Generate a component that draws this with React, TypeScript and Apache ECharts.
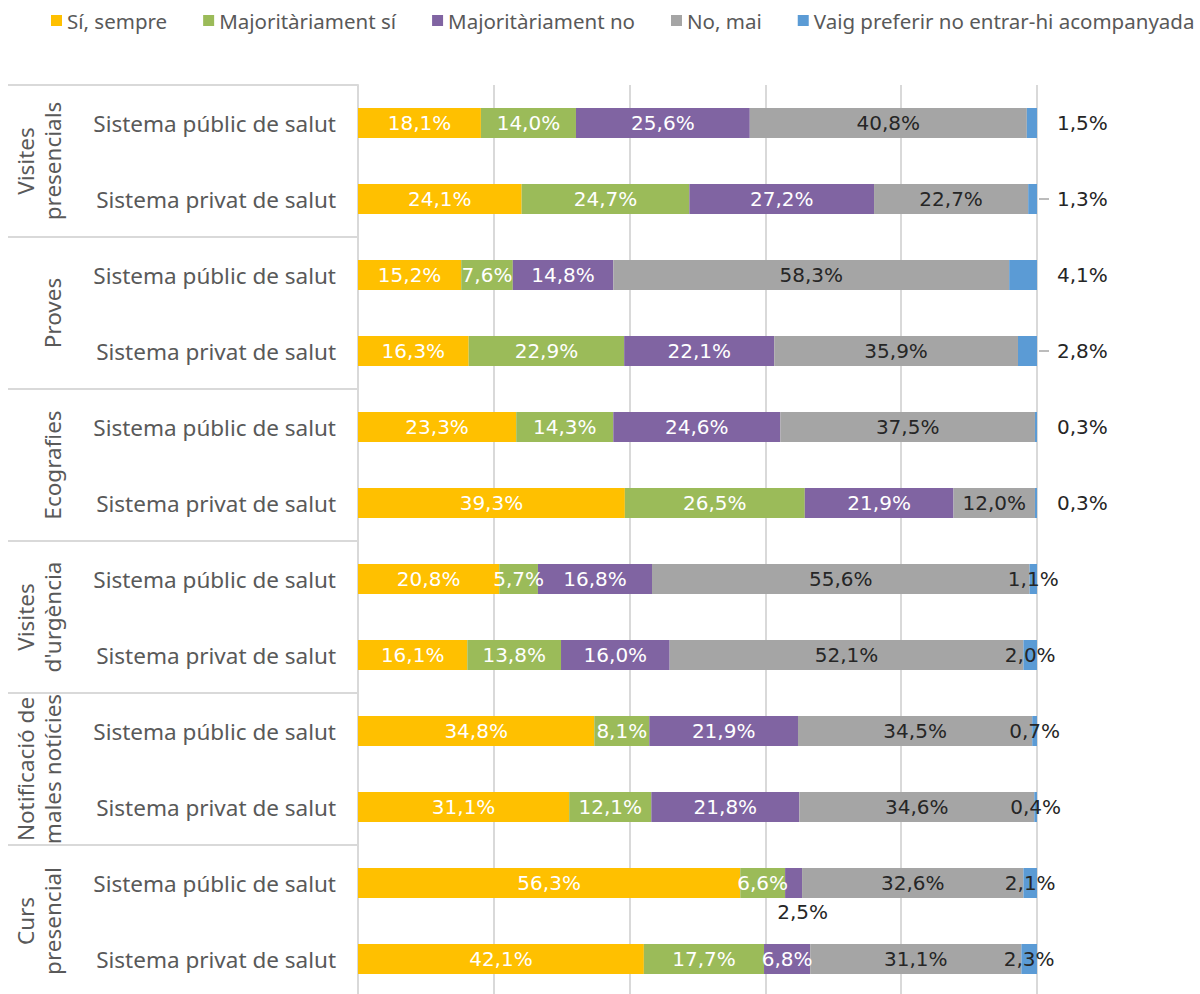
import React, { useEffect, useRef } from "react";
import * as echarts from "echarts";

const seriesNames = [
  "Sí, sempre",
  "Majoritàriament sí",
  "Majoritàriament no",
  "No, mai",
  "Vaig preferir no entrar-hi acompanyada",
];
const colors = ["#FFC000", "#9BBB59", "#8064A2", "#A5A5A5", "#5B9BD5"];

const groups = [
  "Visites\npresencials",
  "Proves",
  "Ecografies",
  "Visites\nd'urgència",
  "Notificació de\nmales notícies",
  "Curs\npresencial",
];
const subLabels = ["Sistema públic de salut", "Sistema privat de salut"];
const rowKeys = groups.flatMap((g, gi) => subLabels.map((s, si) => `r${gi}_${si}`));
const rowLabels = groups.flatMap(() => subLabels);

const siSempre = [18.1, 24.1, 15.2, 16.3, 23.3, 39.3, 20.8, 16.1, 34.8, 31.1, 56.3, 42.1];
const majSi = [14.0, 24.7, 7.6, 22.9, 14.3, 26.5, 5.7, 13.8, 8.1, 12.1, 6.6, 17.7];
const majNo = [25.6, 27.2, 14.8, 22.1, 24.6, 21.9, 16.8, 16.0, 21.9, 21.8, 2.5, 6.8];
const noMai = [40.8, 22.7, 58.3, 35.9, 37.5, 12.0, 55.6, 52.1, 34.5, 34.6, 32.6, 31.1];
const acomp = [1.5, 1.3, 4.1, 2.8, 0.3, 0.3, 1.1, 2.0, 0.7, 0.4, 2.1, 2.3];

const xTicks = [0, 20, 40, 60, 80, 100];

const fmt = (v: number) => v.toFixed(1).replace(".", ",") + "%";

const LABEL_FONT = "DejaVu Sans";
const CAT_FONT = "Noto Sans";

export default function App() {
  const ref = useRef<HTMLDivElement>(null);
  useEffect(() => {
    document.body.style.margin = "0";
    document.body.style.overflow = "hidden";
    const chart = echarts.init(ref.current!, null, { renderer: "svg" });
    const baseLabel = {
      show: true,
      position: "inside",
      color: "#FFFFFF",
      fontFamily: LABEL_FONT,
      fontSize: 20,
      formatter: (p: any) => fmt(typeof p.value === "number" ? p.value : p.data.value),
    };
    const all = [siSempre, majSi, majNo, noMai, acomp];
    const series = all.map((arr, si) => {
      const data = arr.map((v, i) => {
        if (si === 2 && i === 10) {
          return {
            value: v,
            label: { position: "bottom", color: "#262626", distance: 4, padding: [0, 0, 0, 18] },
          };
        }
        if (si === 4) {
          if (i < 6) {
            return { value: v, label: { position: "right", distance: 20, color: "#262626" } };
          }
          return { value: v, label: { position: "inside", color: "#262626" } };
        }
        return v;
      });
      return {
        name: seriesNames[si],
        type: "bar",
        stack: "total",
        barWidth: 30,
        itemStyle: { color: colors[si] },
        label: { ...baseLabel, color: si >= 3 ? "#262626" : "#FFFFFF" },
        labelLayout: { hideOverlap: false },
        emphasis: { disabled: true },
        data,
      };
    });

    chart.setOption({
      animation: false,
      legend: {
        left: 46,
        top: 5,
        itemWidth: 11,
        itemHeight: 11,
        itemGap: 36,
        icon: "rect",
        textStyle: { color: "#595959", fontFamily: CAT_FONT, fontSize: 20.5 },
        data: seriesNames,
      },
      grid: { left: 358, right: 163, top: 85, height: 912, containLabel: false },
      xAxis: {
        type: "value",
        min: 0,
        max: 100,
        interval: 20,
        axisLabel: { show: false },
        axisLine: { show: false },
        axisTick: { show: false },
        splitLine: { lineStyle: { color: "#D9D9D9", width: 2 } },
      },
      yAxis: {
        type: "category",
        inverse: true,
        data: rowKeys,
        axisLine: { show: true, lineStyle: { color: "#D9D9D9", width: 2 } },
        axisTick: { show: false },
        axisLabel: {
          margin: 22,
          color: "#595959",
          fontFamily: CAT_FONT,
          fontSize: 22.5,
          formatter: (_v: string, i: number) => rowLabels[i],
        },
      },
      series,
    });

    const yc = (i: number) => chart.convertToPixel({ yAxisIndex: 0 }, rowKeys[i]) as number;
    const band = yc(1) - yc(0);
    const xLeft = chart.convertToPixel({ xAxisIndex: 0 }, xTicks[0]) as number;
    const graphics: any[] = [];
    groups.forEach((g, gi) => {
      const top = yc(gi * 2) - band / 2;
      graphics.push({
        type: "line",
        shape: { x1: 8, y1: top, x2: xLeft, y2: top },
        style: { stroke: "#D9D9D9", lineWidth: 2 },
        silent: true,
      });
      const center = (yc(gi * 2) + yc(gi * 2 + 1)) / 2;
      graphics.push({
        type: "text",
        x: 66,
        y: center,
        rotation: Math.PI / 2,
        style: {
          text: g,
          fill: "#595959",
          fontFamily: CAT_FONT,
          fontSize: 22.5,
          lineHeight: 27,
          align: "center",
          verticalAlign: "bottom",
        },
        silent: true,
      });
    });
    // leader lines for blue labels of rows 2 and 4
    [1, 3].forEach((i) => {
      const xe = chart.convertToPixel({ xAxisIndex: 0 }, 100) as number;
      const y = yc(i);
      graphics.push({
        type: "line",
        shape: { x1: xe + 2, y1: y, x2: xe + 12, y2: y },
        style: { stroke: "#A6A6A6", lineWidth: 1.5 },
        silent: true,
      });
    });
    chart.setOption({ graphic: graphics });

    return () => chart.dispose();
  }, []);
  return <div ref={ref} style={{ width: 1200, height: 1000 }} />;
}
